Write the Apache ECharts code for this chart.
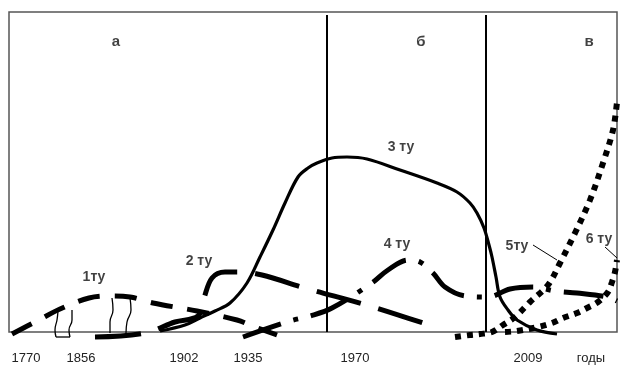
<!DOCTYPE html>
<html>
<head>
<meta charset="utf-8">
<script src="https://cdn.jsdelivr.net/npm/echarts@6/dist/echarts.min.js"></script>
<style>
  html, body { margin: 0; padding: 0; background: #fff; }
  #chart { width: 620px; height: 365px; }
</style>
</head>
<body>
<div id="chart"></div>
<script>
// положение по горизонтали (условная шкала времени) и уровень развития уклада
const wave1 = [[12,-2],[37,11],[60,23],[89,34],[110,36],[130,35],[153,29],[197,21],[237,12],[255,5],[277,-3]];
const wave2 = [[95,-5],[145,-1],[175,10],[198,16],[204,34],[212,54],[225,60],[240,60],[262,57],[305,44],[370,26],[435,5]];
const wave3 = [[160,1],[185,7],[200,14],[215,21],[230,29],[247,49],[260,75],[273,102],[285,129],[298,155],[308,164],
  [317,169],[332,174],[347,175],[367,173],[400,162],[437,149],[457,140],[470,129],[477,119],[484,104],[489,87],
  [492,75],[496,55],[500,35],[508,22],[517,12],[537,2],[557,-2]];
const wave4 = [[243,-5],[290,11],[310,16],[332,24],[372,49],[388,62],[408,72],[420,70],[433,59],[445,45],[465,36],
  [488,35],[510,43],[533,45],[555,41],[577,39],[607,35],[617,31]];
const wave5 = [[455,-5],[470,-3],[480,-2],[492,0],[503,7],[515,15],[530,30],[548,47],[560,69],[575,99],[590,132],
  [603,169],[613,202],[617,230]];
const wave6 = [[505,0],[517,1],[538,5],[552,9],[563,14],[577,19],[587,24],[598,30],[608,40],[612,50],[615,60],[617,72]];

// тонкие волнистые линии-связки у первого уклада
const links = [
  [[58,21],[57,12],[55,2],[56,-5]],
  [[72,22],[72,12],[69,2],[70,-5]],
  [[56,-5],[70,-5]],
  [[112,34],[113,22],[110,10],[110,-1]],
  [[130,34],[131,22],[127,10],[126,-1]]
];

const waveNames = ['1ту', '2 ту', '3 ту', '4 ту', '5ту', '6 ту'];
const waveLabelPos = [[94,55],[199,71],[401,185],[397,88],[517,86],[599,93]];
const leaders = [[[533,87],[557,72]], [[605,85],[617,74]]];

const periodNames = ['а', 'б', 'в'];
const periodPos = [[116,290],[421,290],[589,290]];
const dividers = [327, 486];

const tickPos = [26, 81, 184, 248, 355, 528, 591];
const tickLabels = ['1770', '1856', '1902', '1935', '1970', '2009', 'годы'];

const chart = echarts.init(document.getElementById('chart'));

function wave(data, width, dash) {
  return {
    type: 'line', data: data, smooth: 0.35, symbol: 'none', clip: false, silent: true,
    lineStyle: { color: '#000', width: width, type: dash, cap: 'butt' }
  };
}

const series = [
  wave(wave1, 5, [22, 15]),
  wave(wave2, 5, [46, 18]),
  wave(wave3, 3.2, 'solid'),
  wave(wave4, 5, [40, 13, 5, 13]),
  wave(wave5, 6, [6, 6]),
  wave(wave6, 6, [6, 6])
];

links.forEach(l => series.push({
  type: 'line', data: l, smooth: 0.5, symbol: 'none', clip: false, silent: true,
  lineStyle: { color: '#000', width: 1.3 }
}));
leaders.forEach(l => series.push({
  type: 'line', data: l, symbol: 'none', clip: false, silent: true,
  lineStyle: { color: '#000', width: 1 }
}));
dividers.forEach(x => series.push({
  type: 'line', data: [[x, 0], [x, 317]], symbol: 'none', clip: false, silent: true,
  lineStyle: { color: '#000', width: 2 }
}));

series.push({
  type: 'scatter', symbolSize: 0, silent: true,
  data: waveNames.map((n, i) => ({ name: n, value: waveLabelPos[i] })),
  label: {
    show: true, position: 'inside', formatter: '{b}', color: '#111',
    fontFamily: 'Liberation Sans, Arial, sans-serif', fontWeight: 'bold', fontSize: 14
  }
});
series.push({
  type: 'scatter', symbolSize: 0, silent: true,
  data: periodNames.map((n, i) => ({ name: n, value: periodPos[i] })),
  label: {
    show: true, position: 'inside', formatter: '{b}', color: '#111',
    fontFamily: 'Liberation Sans, Arial, sans-serif', fontWeight: 'bold', fontSize: 15
  }
});

chart.setOption({
  animation: false,
  grid: {
    show: true, left: 9, right: 3, top: 12, bottom: 33,
    borderColor: '#555', borderWidth: 1.5, backgroundColor: 'transparent'
  },
  xAxis: {
    type: 'value', min: 9, max: 617,
    axisLine: { show: false }, axisTick: { show: false }, splitLine: { show: false },
    axisLabel: {
      customValues: tickPos, margin: 20, color: '#222', fontSize: 13,
      fontFamily: 'Liberation Sans Narrow, Liberation Sans, Arial, sans-serif',
      formatter: v => tickLabels[tickPos.indexOf(v)]
    }
  },
  yAxis: {
    type: 'value', min: 0, max: 320, show: false, splitLine: { show: false }
  },
  series: series
});
</script>
</body>
</html>
